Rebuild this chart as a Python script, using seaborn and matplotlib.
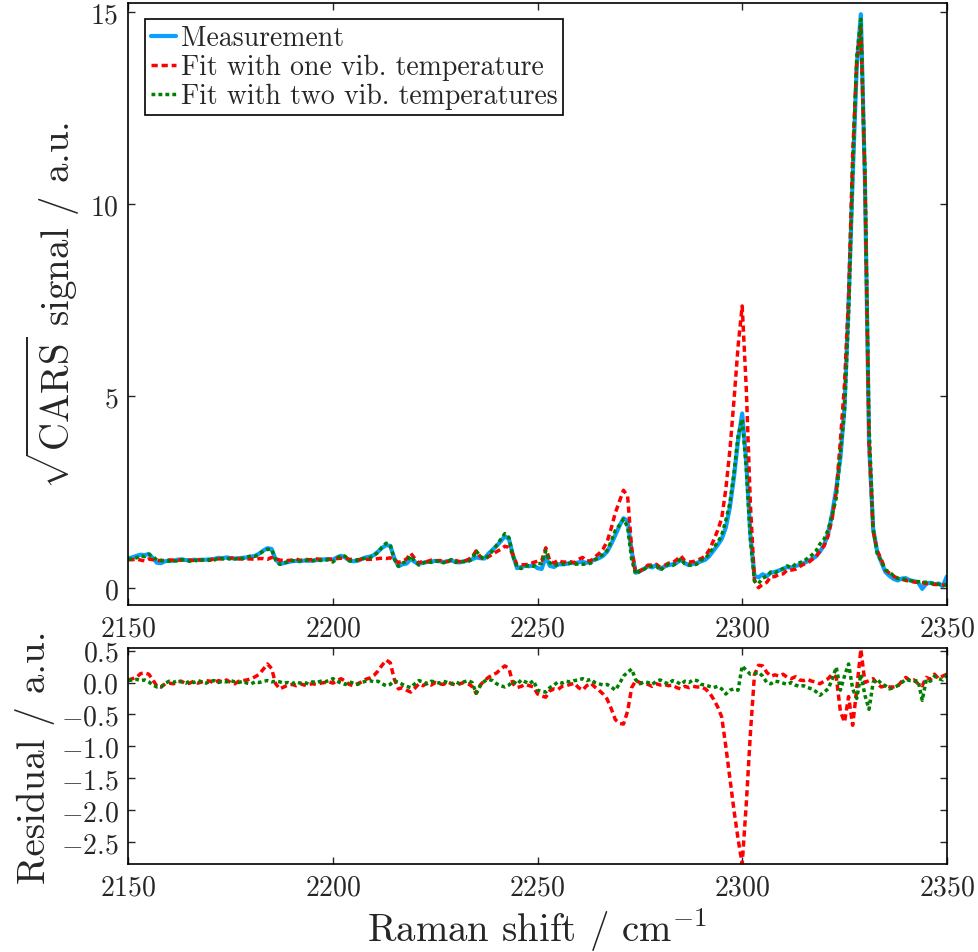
import numpy as np
import pandas as pd
import matplotlib
matplotlib.use("Agg")
import matplotlib.pyplot as plt
import seaborn as sns

# Raman shift axis (1 cm^-1 steps)
shift = np.arange(2150, 2351)

# Measured sqrt(CARS) spectrum
measurement = [
    0.78, 0.80, 0.84, 0.87, 0.86, 0.89, 0.78, 0.66, 0.65, 0.70,
    0.72, 0.71, 0.74, 0.75, 0.73, 0.72, 0.74, 0.73, 0.74, 0.74,
    0.75, 0.76, 0.79, 0.78, 0.80, 0.78, 0.77, 0.78, 0.79, 0.80,
    0.82, 0.84, 0.90, 0.98, 1.04, 1.02, 0.75, 0.63, 0.65, 0.68,
    0.70, 0.71, 0.70, 0.72, 0.71, 0.72, 0.73, 0.74, 0.75, 0.76,
    0.74, 0.80, 0.84, 0.80, 0.72, 0.70, 0.71, 0.76, 0.80, 0.82,
    0.86, 0.95, 1.05, 1.12, 1.10, 0.78, 0.57, 0.62, 0.64, 0.76,
    0.68, 0.63, 0.66, 0.68, 0.69, 0.71, 0.70, 0.68, 0.70, 0.72,
    0.68, 0.67, 0.70, 0.72, 0.75, 0.80, 0.78, 0.77, 0.90, 1.00,
    1.10, 1.22, 1.35, 1.28, 0.85, 0.52, 0.55, 0.58, 0.57, 0.60,
    0.52, 0.50, 0.82, 0.58, 0.55, 0.62, 0.62, 0.63, 0.66, 0.65,
    0.67, 0.68, 0.66, 0.70, 0.74, 0.78, 0.84, 0.95, 1.15, 1.38,
    1.62, 1.82, 1.75, 0.95, 0.40, 0.44, 0.50, 0.57, 0.54, 0.60,
    0.50, 0.56, 0.60, 0.62, 0.66, 0.74, 0.65, 0.60, 0.63, 0.66,
    0.70, 0.74, 0.84, 0.98, 1.12, 1.28, 1.58, 2.10, 2.90, 3.85,
    4.55, 3.30, 1.40, 0.32, 0.28, 0.36, 0.31, 0.40, 0.42, 0.46,
    0.50, 0.55, 0.53, 0.58, 0.60, 0.65, 0.70, 0.76, 0.82, 0.95,
    1.12, 1.42, 1.95, 2.60, 3.40, 4.70, 7.40, 10.70, 13.60, 14.95,
    10.60, 3.80, 1.55, 0.95, 0.68, 0.42, 0.32, 0.24, 0.20, 0.25,
    0.26, 0.20, 0.18, 0.15, -0.02, 0.12, 0.14, 0.10, 0.12, 0.05, 0.30,
]

# Fit with one vibrational temperature
fit_one = [
    0.74, 0.74, 0.76, 0.73, 0.71, 0.76, 0.74, 0.72, 0.72, 0.72,
    0.73, 0.73, 0.73, 0.73, 0.75, 0.73, 0.72, 0.74, 0.73, 0.71,
    0.73, 0.77, 0.76, 0.77, 0.76, 0.78, 0.79, 0.76, 0.76, 0.76,
    0.76, 0.75, 0.77, 0.77, 0.75, 0.80, 0.77, 0.73, 0.72, 0.72,
    0.73, 0.76, 0.72, 0.76, 0.74, 0.74, 0.76, 0.75, 0.75, 0.75,
    0.75, 0.77, 0.78, 0.78, 0.75, 0.75, 0.73, 0.75, 0.75, 0.75,
    0.75, 0.77, 0.78, 0.77, 0.79, 0.73, 0.67, 0.70, 0.76, 0.91,
    0.77, 0.65, 0.71, 0.69, 0.73, 0.71, 0.72, 0.71, 0.69, 0.74,
    0.72, 0.69, 0.70, 0.74, 0.81, 0.97, 0.82, 0.74, 0.82, 0.88,
    0.95, 1.01, 1.09, 1.06, 0.87, 0.60, 0.61, 0.61, 0.62, 0.67,
    0.70, 0.71, 1.05, 0.71, 0.65, 0.73, 0.68, 0.68, 0.69, 0.66,
    0.75, 0.80, 0.71, 0.71, 0.81, 0.90, 1.02, 1.21, 1.56, 1.96,
    2.26, 2.55, 2.40, 1.03, 0.37, 0.44, 0.52, 0.60, 0.60, 0.62,
    0.54, 0.59, 0.65, 0.66, 0.74, 0.84, 0.71, 0.68, 0.69, 0.73,
    0.77, 0.84, 1.00, 1.24, 1.50, 1.82, 2.58, 3.60, 4.90, 6.30,
    7.35, 5.20, 2.20, 0.20, 0.01, 0.10, 0.15, 0.30, 0.30, 0.36,
    0.37, 0.47, 0.47, 0.49, 0.56, 0.62, 0.65, 0.74, 0.81, 0.97,
    1.10, 1.36, 1.82, 2.52, 3.85, 5.30, 7.60, 11.30, 13.70, 14.60,
    10.60, 3.77, 1.49, 0.97, 0.75, 0.47, 0.39, 0.31, 0.26, 0.23,
    0.20, 0.18, 0.16, 0.15, 0.14, 0.12, 0.11, 0.10, 0.09, 0.08, 0.08,
]

# Fit with two vibrational temperatures
fit_two = [
    0.75, 0.76, 0.79, 0.84, 0.82, 0.88, 0.82, 0.73, 0.72, 0.71,
    0.70, 0.71, 0.71, 0.74, 0.74, 0.70, 0.74, 0.70, 0.73, 0.75,
    0.73, 0.73, 0.79, 0.76, 0.79, 0.75, 0.76, 0.78, 0.77, 0.81,
    0.84, 0.83, 0.90, 0.96, 1.01, 1.01, 0.73, 0.62, 0.66, 0.68,
    0.72, 0.70, 0.71, 0.72, 0.73, 0.71, 0.73, 0.72, 0.74, 0.73,
    0.68, 0.78, 0.85, 0.83, 0.71, 0.71, 0.74, 0.76, 0.78, 0.79,
    0.85, 0.93, 1.07, 1.17, 1.13, 0.75, 0.57, 0.65, 0.70, 0.84,
    0.70, 0.60, 0.65, 0.70, 0.67, 0.70, 0.71, 0.66, 0.70, 0.74,
    0.67, 0.69, 0.69, 0.69, 0.75, 0.97, 0.83, 0.75, 0.85, 0.97,
    1.12, 1.27, 1.42, 1.32, 0.83, 0.55, 0.51, 0.57, 0.59, 0.57,
    0.64, 0.64, 0.97, 0.66, 0.59, 0.61, 0.63, 0.61, 0.65, 0.62,
    0.63, 0.62, 0.63, 0.65, 0.74, 0.80, 0.88, 0.98, 1.22, 1.50,
    1.64, 1.80, 1.59, 0.74, 0.36, 0.46, 0.49, 0.57, 0.57, 0.58,
    0.46, 0.56, 0.62, 0.59, 0.65, 0.77, 0.63, 0.60, 0.59, 0.63,
    0.73, 0.78, 0.90, 1.06, 1.18, 1.38, 1.76, 2.22, 3.00, 3.97,
    4.40, 3.11, 1.27, 0.18, 0.12, 0.26, 0.31, 0.42, 0.40, 0.45,
    0.51, 0.58, 0.53, 0.62, 0.66, 0.70, 0.78, 0.86, 0.96, 1.15,
    1.27, 1.52, 1.90, 2.36, 3.52, 4.60, 7.11, 10.80, 13.85, 14.82,
    10.80, 4.22, 1.55, 0.90, 0.70, 0.47, 0.42, 0.32, 0.25, 0.25,
    0.22, 0.20, 0.18, 0.17, 0.16, 0.15, 0.13, 0.12, 0.10, 0.09, 0.08,
]

# Residuals
resid_one = [
    0.04, 0.06, 0.08, 0.14, 0.15, 0.13, 0.04, -0.06, -0.07, -0.02,
    -0.01, -0.02, 0.01, 0.02, -0.02, -0.01, 0.02, -0.01, 0.01, 0.03,
    0.02, -0.01, 0.03, 0.01, 0.04, 0.00, -0.02, 0.02, 0.03, 0.04,
    0.06, 0.09, 0.13, 0.21, 0.29, 0.22, -0.02, -0.10, -0.07, -0.04,
    -0.03, -0.05, -0.02, -0.04, -0.03, -0.02, -0.03, -0.01, 0.00, 0.01,
    -0.01, 0.03, 0.06, 0.02, -0.03, -0.05, -0.02, 0.01, 0.05, 0.07,
    0.11, 0.18, 0.27, 0.35, 0.31, 0.05, -0.10, -0.08, -0.12, -0.15,
    -0.09, -0.02, -0.05, -0.01, -0.04, 0.00, -0.02, -0.03, 0.01, -0.02,
    -0.04, -0.02, 0.00, -0.02, -0.06, -0.17, -0.04, 0.03, 0.08, 0.12,
    0.15, 0.21, 0.26, 0.22, -0.02, -0.08, -0.06, -0.03, -0.05, -0.07,
    -0.18, -0.21, -0.23, -0.13, -0.10, -0.11, -0.06, -0.05, -0.03, -0.01,
    -0.08, -0.12, -0.05, -0.01, -0.07, -0.12, -0.18, -0.26, -0.41, -0.58,
    -0.64, -0.65, -0.45, -0.08, 0.03, 0.00, -0.02, -0.03, -0.06, -0.02,
    -0.04, -0.03, -0.05, -0.04, -0.08, -0.10, -0.06, -0.08, -0.06, -0.07,
    -0.07, -0.10, -0.16, -0.26, -0.38, -0.54, -1.00, -1.50, -2.00, -2.45,
    -2.84, -1.90, -0.80, 0.12, 0.27, 0.26, 0.16, 0.10, 0.12, 0.10,
    0.13, 0.08, 0.06, 0.09, 0.04, 0.03, 0.05, 0.02, 0.01, -0.02,
    0.02, 0.06, 0.13, 0.08, -0.45, -0.62, -0.22, -0.67, -0.10, 0.52,
    0.00, 0.03, 0.06, -0.02, -0.07, -0.05, -0.07, -0.07, -0.06, 0.02,
    0.08, 0.03, 0.04, -0.02, -0.05, 0.08, 0.05, 0.13, 0.06, 0.10, 0.13,
]

resid_two = [
    0.03, 0.04, 0.05, 0.03, 0.04, 0.01, -0.04, -0.07, -0.07, -0.01,
    0.02, 0.00, 0.03, 0.01, -0.01, 0.02, 0.00, 0.03, 0.01, -0.01,
    0.02, 0.03, 0.00, 0.02, 0.01, 0.03, 0.01, 0.00, 0.02, -0.01,
    -0.02, 0.01, 0.00, 0.02, 0.03, 0.01, 0.02, 0.01, -0.01, 0.00,
    -0.02, 0.01, -0.01, 0.00, -0.02, 0.01, 0.00, 0.02, 0.01, 0.03,
    0.06, 0.02, -0.01, -0.03, 0.01, -0.01, -0.03, 0.00, 0.02, 0.03,
    0.01, 0.02, -0.02, -0.05, -0.03, 0.03, 0.00, -0.03, -0.06, -0.08,
    -0.02, 0.03, 0.01, -0.02, 0.02, 0.01, -0.01, 0.02, 0.00, -0.02,
    0.01, -0.02, 0.01, 0.03, 0.00, -0.17, -0.05, 0.02, 0.05, 0.03,
    -0.02, -0.05, -0.07, -0.04, 0.02, -0.03, 0.04, 0.01, -0.02, 0.03,
    -0.12, -0.14, -0.15, -0.08, -0.04, 0.01, -0.01, 0.02, 0.01, 0.03,
    0.04, 0.06, 0.03, 0.05, 0.00, -0.02, -0.04, -0.03, -0.07, -0.12,
    -0.02, 0.10, 0.16, 0.21, 0.04, -0.02, 0.01, 0.00, -0.03, 0.02,
    0.04, 0.00, -0.02, 0.03, 0.01, -0.03, 0.02, 0.00, 0.04, 0.03,
    -0.03, -0.04, -0.06, -0.08, -0.06, -0.10, -0.18, -0.12, -0.10, -0.12,
    0.26, 0.19, 0.13, 0.14, 0.16, 0.10, 0.00, -0.02, 0.02, 0.01,
    -0.01, -0.03, 0.00, -0.04, -0.06, -0.05, -0.08, -0.10, -0.14, -0.20,
    -0.15, -0.10, 0.05, 0.24, -0.12, 0.10, 0.29, -0.10, -0.25, 0.13,
    -0.20, -0.42, 0.00, 0.05, -0.02, -0.05, -0.10, -0.08, -0.05, 0.00,
    0.05, 0.03, 0.02, 0.03, -0.28, 0.05, 0.02, 0.10, 0.06, 0.04, 0.12,
]

df = pd.DataFrame({
    'shift': shift,
    'measurement': measurement,
    'fit_one': fit_one,
    'fit_two': fit_two,
    'resid_one': resid_one,
    'resid_two': resid_two,
})

sns.set_style('ticks', {'xtick.direction': 'in', 'ytick.direction': 'in'})
plt.rcParams['font.family'] = 'serif'
plt.rcParams['font.serif'] = ['cmr10']
plt.rcParams['mathtext.fontset'] = 'cm'
plt.rcParams['axes.formatter.use_mathtext'] = True
plt.rcParams['lines.dashed_pattern'] = [1.8, 1.1]
plt.rcParams['lines.dotted_pattern'] = [1.1, 0.9]
plt.rcParams['axes.linewidth'] = 1.2

c_meas = '#0aa0ff'
c_one = '#ff0000'
c_two = '#008000'

fig = plt.figure(figsize=(9.79, 9.53), dpi=100)
ax1 = fig.add_axes([0.1311, 0.3641, 0.836, 0.632])
ax2 = fig.add_axes([0.1311, 0.0923, 0.836, 0.2267])

# Spectrum and fits
sns.lineplot(data=df, x='shift', y='measurement', ax=ax1, color=c_meas,
             linewidth=3, label='Measurement')
sns.lineplot(data=df, x='shift', y='fit_one', ax=ax1, color=c_one,
             linewidth=2.5, linestyle='--', label='Fit with one vib. temperature')
sns.lineplot(data=df, x='shift', y='fit_two', ax=ax1, color=c_two,
             linewidth=2.5, linestyle=':', label='Fit with two vib. temperatures')

ax1.set_xlim(2150, 2350)
ax1.set_ylim(-0.44, 15.25)
ax1.set_yticks([0, 5, 10, 15])
ax1.set_xticks([2150, 2200, 2250, 2300, 2350])
ax1.set_ylabel(r'$\sqrt{\mathrm{CARS}}$ signal / a.u.', fontsize=28, labelpad=6)
ax1.set_xlabel('')

leg = ax1.legend(loc='upper left', fontsize=20, frameon=True, fancybox=False,
                 framealpha=1, edgecolor='black', handlelength=0.9,
                 handletextpad=0.2, borderpad=0.2, labelspacing=0.1,
                 borderaxespad=0.6)
leg.get_frame().set_linewidth(1.2)

# Residuals
sns.lineplot(data=df, x='shift', y='resid_one', ax=ax2, color=c_one,
             linewidth=2.5, linestyle='--')
sns.lineplot(data=df, x='shift', y='resid_two', ax=ax2, color=c_two,
             linewidth=2.5, linestyle=':')

ax2.set_xlim(2150, 2350)
ax2.set_ylim(-2.84, 0.54)
ax2.set_yticks([0.5, 0.0, -0.5, -1.0, -1.5, -2.0, -2.5])
ax2.set_xticks([2150, 2200, 2250, 2300, 2350])
ax2.set_ylabel('Residual / a.u.', fontsize=28)
ax2.set_xlabel(r'Raman shift / cm$^{-1}$', fontsize=28)

for ax in (ax1, ax2):
    ax.tick_params(direction='in', top=True, right=True, length=5, width=1,
                   labelsize=20, pad=7)
    for sp in ax.spines.values():
        sp.set_color('black')

fig.savefig('out.png', dpi=100, facecolor='white')
